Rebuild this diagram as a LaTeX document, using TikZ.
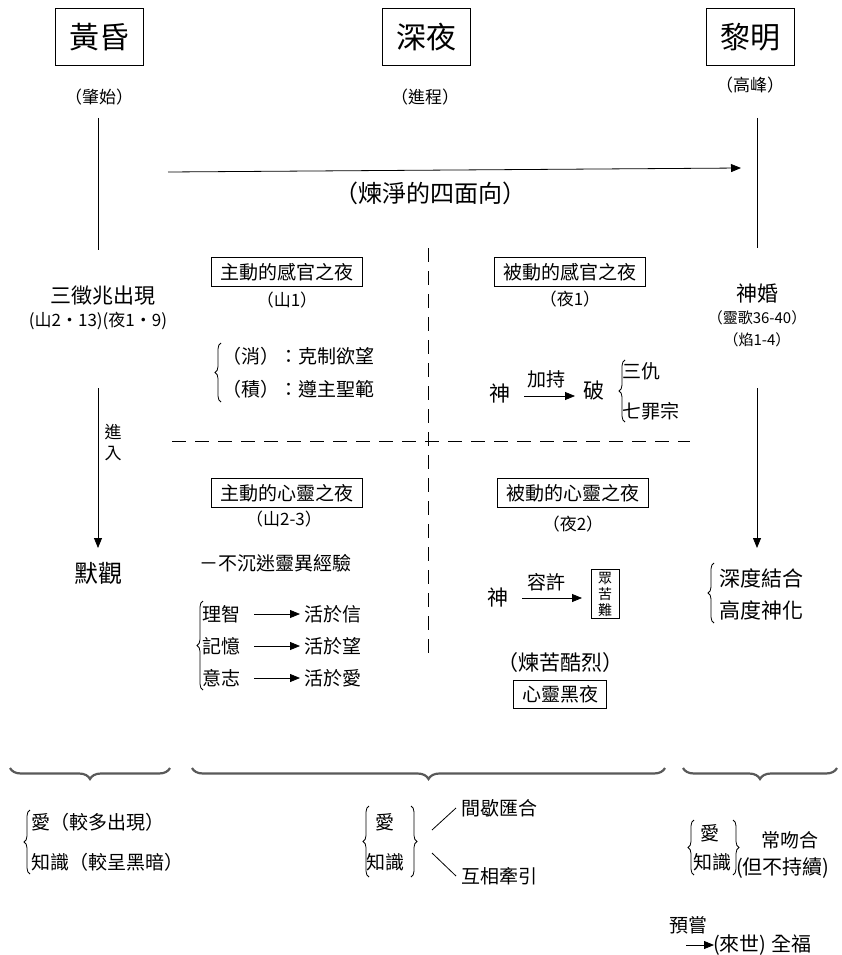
\documentclass[tikz,border=0pt]{standalone}
\usepackage{fontspec}
\setmainfont{Noto Sans CJK TC}
\usetikzlibrary{arrows.meta,decorations.pathreplacing}
\begin{document}
\begin{tikzpicture}[x=1pt,y=-1pt,
  title/.style={draw, line width=0.8pt, minimum width=88pt, minimum height=57pt, inner sep=0pt, font=\fontsize{30}{30}\selectfont},
  fs15/.style={inner sep=1pt, font=\fontsize{15}{15}\selectfont},
  fs17/.style={inner sep=1pt, font=\fontsize{17}{17}\selectfont},
  fs18/.style={inner sep=1pt, font=\fontsize{18}{18}\selectfont},
  fs19/.style={inner sep=1pt, font=\fontsize{19}{19}\selectfont},
  fs20/.style={inner sep=1pt, font=\fontsize{20}{20}\selectfont},
  fs21/.style={inner sep=1pt, font=\fontsize{21}{21}\selectfont},
  fs24/.style={inner sep=1pt, font=\fontsize{24}{24}\selectfont},
  boxed/.style={draw, line width=0.8pt, minimum width=151pt, minimum height=29pt, inner sep=0pt, font=\fontsize{19}{19}\selectfont},
  arr/.style={-{Triangle[length=10pt,width=8pt]}, line width=0.8pt},
  divider/.style={dash pattern=on 14pt off 9pt, line width=0.9pt},
  lbrace/.style={decorate, decoration={brace,amplitude=6pt}, line width=0.8pt},
  ubrace/.style={decorate, decoration={brace,mirror,amplitude=11pt}, line width=2.2pt, draw=black!65},
  plain/.style={line width=0.8pt}
]
\useasboundingbox (0,0) rectangle (842,955);
\fill[white] (0,0) rectangle (842,955);

% titles
\node[title] (t1) at (99,37) {黃昏};
\node[title] (t2) at (426,37) {深夜};
\node[title] (t3) at (750,37) {黎明};
\node[fs17] (s1) at (99,97) {（肇始）};
\node[fs17] (s2) at (425,97) {（進程）};
\node[fs17] (s3) at (750,85) {（高峰）};

% left column
\coordinate (l1a) at (98,118);
\coordinate (l1b) at (98,250);
\draw[plain] (l1a) -- (l1b);
\node[fs21] (omen) at (103,296) {三徵兆出現};
\node[fs17] (omenref) at (98,321) {(山2・13)(夜1・9)};
\coordinate (l2a) at (98,388);
\coordinate (l2b) at (98,548);
\draw[arr] (l2a) -- (l2b);
\node[fs17] (enter1) at (113,432) {進};
\node[fs17] (enter2) at (113,454) {入};
\node[fs24] (contemp) at (98,573) {默觀};

% purification arrow
\coordinate (pa) at (168,172);
\coordinate (pb) at (741,168);
\draw[arr] (pa) -- (pb);
\node[fs24] (purify) at (430,193) {（煉淨的四面向）};

% right column
\coordinate (r1a) at (757,118);
\coordinate (r1b) at (757,248);
\draw[plain] (r1a) -- (r1b);
\node[fs21] (marriage) at (757,294) {神婚};
\node[fs15] (mref1) at (757,318) {（靈歌36-40）};
\node[fs15] (mref2) at (757,340) {（焰1-4）};
\coordinate (r2a) at (757,388);
\coordinate (r2b) at (757,548);
\draw[arr] (r2a) -- (r2b);
\node[fs21, anchor=west] (deep) at (718,578) {深度結合};
\node[fs21, anchor=west] (high) at (718,610) {高度神化};
\draw[lbrace] (714,623) -- (714,563);

% dividers
\coordinate (dva) at (428,248);
\coordinate (dvb) at (428,655);
\draw[divider] (dva) -- (dvb);
\coordinate (dha) at (172,441);
\coordinate (dhb) at (690,441);
\draw[divider] (dha) -- (dhb);

% quadrant 1: active sense
\node[boxed] (as) at (287,272) {主動的感官之夜};
\node[fs17] (asref) at (287,300) {（山1）};
\node[fs19, anchor=west] (as1) at (221,356) {（消）：克制欲望};
\node[fs19, anchor=west] (as2) at (221,389) {（積）：遵主聖範};
\draw[lbrace] (221,402) -- (221,343);

% quadrant 2: passive sense
\node[boxed] (ps) at (570,272) {被動的感官之夜};
\node[fs17] (psref) at (570,299) {（夜1）};
\node[fs21] (god1) at (500,394) {神};
\coordinate (g1a) at (524,396);
\coordinate (g1b) at (575,396);
\draw[arr] (g1a) -- (g1b);
\node[fs19] (bless) at (546,379) {加持};
\node[fs21] (break) at (594,391) {破};
\node[fs19, anchor=west] (enemy) at (621,371) {三仇};
\node[fs19, anchor=west] (sins) at (621,411) {七罪宗};
\draw[lbrace] (625,422) -- (625,360);

% quadrant 3: active spirit
\node[boxed] (asp) at (287,493) {主動的心靈之夜};
\node[fs17] (aspref) at (284,519) {（山2-3）};
\node[fs19, anchor=west] (nomyst) at (198,563) {－不沉迷靈異經驗};
\node[fs19, anchor=west] (intel) at (201,614) {理智};
\node[fs19, anchor=west] (memo) at (201,646) {記憶};
\node[fs19, anchor=west] (will) at (201,678) {意志};
\node[fs19, anchor=west] (faith) at (303,614) {活於信};
\node[fs19, anchor=west] (hope) at (303,646) {活於望};
\node[fs19, anchor=west] (love) at (303,678) {活於愛};
\draw[arr] (intel.east) ++(13,0) coordinate (ia) -- (faith.west -| 300,0) coordinate (ib);
\draw[arr] (memo.east) ++(13,0) coordinate (ma) -- (hope.west -| 300,0) coordinate (mb);
\draw[arr] (will.east) ++(13,0) coordinate (wa) -- (love.west -| 300,0) coordinate (wb);
\draw[lbrace] (203,690) -- (203,601);

% quadrant 4: passive spirit
\node[boxed] (psp) at (573,493) {被動的心靈之夜};
\node[fs17] (pspref) at (573,524) {（夜2）};
\node[fs21] (god2) at (498,598) {神};
\coordinate (g2a) at (522,598);
\coordinate (g2b) at (582,598);
\draw[arr] (g2a) -- (g2b);
\node[fs19] (permit) at (546,582) {容許};
\node[draw, line width=0.8pt, align=center, inner sep=2pt, minimum width=28pt, font=\fontsize{14}{16}\selectfont] (suffer) at (605,594) {眾\\苦\\難};
\node[fs21] (fierce) at (560,663) {（煉苦酷烈）};
\node[draw, line width=0.8pt, minimum width=93pt, minimum height=28pt, inner sep=0pt, font=\fontsize{19}{19}\selectfont] (dark) at (560,694) {心靈黑夜};

% underbraces
\draw[ubrace] (10,768) -- (170,768);
\draw[ubrace] (192,768) -- (665,768);
\draw[ubrace] (683,768) -- (837,768);

% bottom left
\node[fs19, anchor=west] (bl1) at (30,822) {愛（較多出現）};
\node[fs19, anchor=west] (bl2) at (30,862) {知識（較呈黑暗）};
\draw[lbrace] (30,874) -- (30,810);

% bottom middle
\node[fs19] (bm1) at (385,822) {愛};
\node[fs19] (bm2) at (385,862) {知識};
\draw[lbrace] (369,877) -- (369,806);
\draw[lbrace] (411,806) -- (411,877);
\coordinate (ma1) at (432,830);
\coordinate (ma2) at (456,808);
\coordinate (mb1) at (432,853);
\coordinate (mb2) at (456,876);
\draw[plain] (ma1) -- (ma2);
\draw[plain] (mb1) -- (mb2);
\node[fs19, anchor=west] (bm3) at (460,808) {間歇匯合};
\node[fs19, anchor=west] (bm4) at (460,876) {互相牽引};

% bottom right
\node[fs19] (br1) at (710,833) {愛};
\node[fs19] (br2) at (712,862) {知識};
\draw[lbrace] (694,875) -- (694,820);
\draw[lbrace] (733,820) -- (733,875);
\node[fs19] (br3) at (790,840) {常吻合};
\node[fs20, anchor=west] (br4) at (735,868) {(但不持續)};
\node[fs19] (foretaste) at (688,925) {預嘗};
\coordinate (fa) at (686,945);
\coordinate (fb) at (714,945);
\draw[arr] (fa) -- (fb);
\node[fs20, anchor=west] (bliss) at (712,945) {(來世) 全福};
\end{tikzpicture}
\end{document}
